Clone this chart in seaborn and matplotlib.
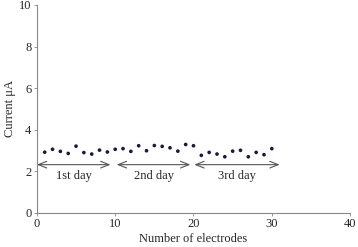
import pandas as pd
import seaborn as sns
import matplotlib.pyplot as plt

electrodes = list(range(1, 31))
current = [2.92, 3.06, 2.96, 2.86, 3.21, 2.90, 2.83, 3.02, 2.93, 3.06,
           3.09, 2.96, 3.23, 2.99, 3.24, 3.20, 3.13, 2.97, 3.29, 3.23,
           2.77, 2.91, 2.83, 2.70, 2.97, 3.01, 2.70, 2.91, 2.80, 3.09]

# Day groups: label, arrow start, arrow end
day_labels = ['1st day', '2nd day', '3rd day']
day_start = [0.0, 10.2, 20.1]
day_end = [9.4, 19.6, 31.0]

df = pd.DataFrame({'electrode': electrodes, 'current': current})

sns.set_theme(style="white")
plt.rcParams['font.family'] = ['Liberation Serif', 'DejaVu Serif']

fig, ax = plt.subplots(figsize=(3.58, 2.47), dpi=100)
fig.subplots_adjust(left=0.103, right=0.978, bottom=0.138, top=0.98)

sns.scatterplot(data=df, x='electrode', y='current', ax=ax,
                color='#1a1a3a', s=7, edgecolor='none')

for lab, x0, x1 in zip(day_labels, day_start, day_end):
    ax.annotate('', xy=(x0, 2.32), xytext=(x1, 2.32),
                arrowprops=dict(arrowstyle='<->,head_length=0.5,head_width=0.2',
                                color='#555555', lw=0.8, shrinkA=0, shrinkB=0))
    ax.text((x0 + x1) / 2, 1.77, lab, ha='center', va='center', fontsize=9)

ax.set_xlim(0, 40)
ax.set_ylim(0, 10)
ax.set_xticks([0, 10, 20, 30, 40])
ax.set_yticks([0, 2, 4, 6, 8, 10])
ax.set_xlabel('Number of electrodes', fontsize=9, labelpad=2)
ax.set_ylabel('Current μA', fontsize=9, labelpad=2)
ax.tick_params(labelsize=9, length=2, width=0.6, color='#888888', pad=2,
               direction='out', left=True, bottom=True)

sns.despine(ax=ax)
for side in ['left', 'bottom']:
    ax.spines[side].set_color('#888888')
    ax.spines[side].set_linewidth(0.8)

plt.savefig('out.png', dpi=100)
